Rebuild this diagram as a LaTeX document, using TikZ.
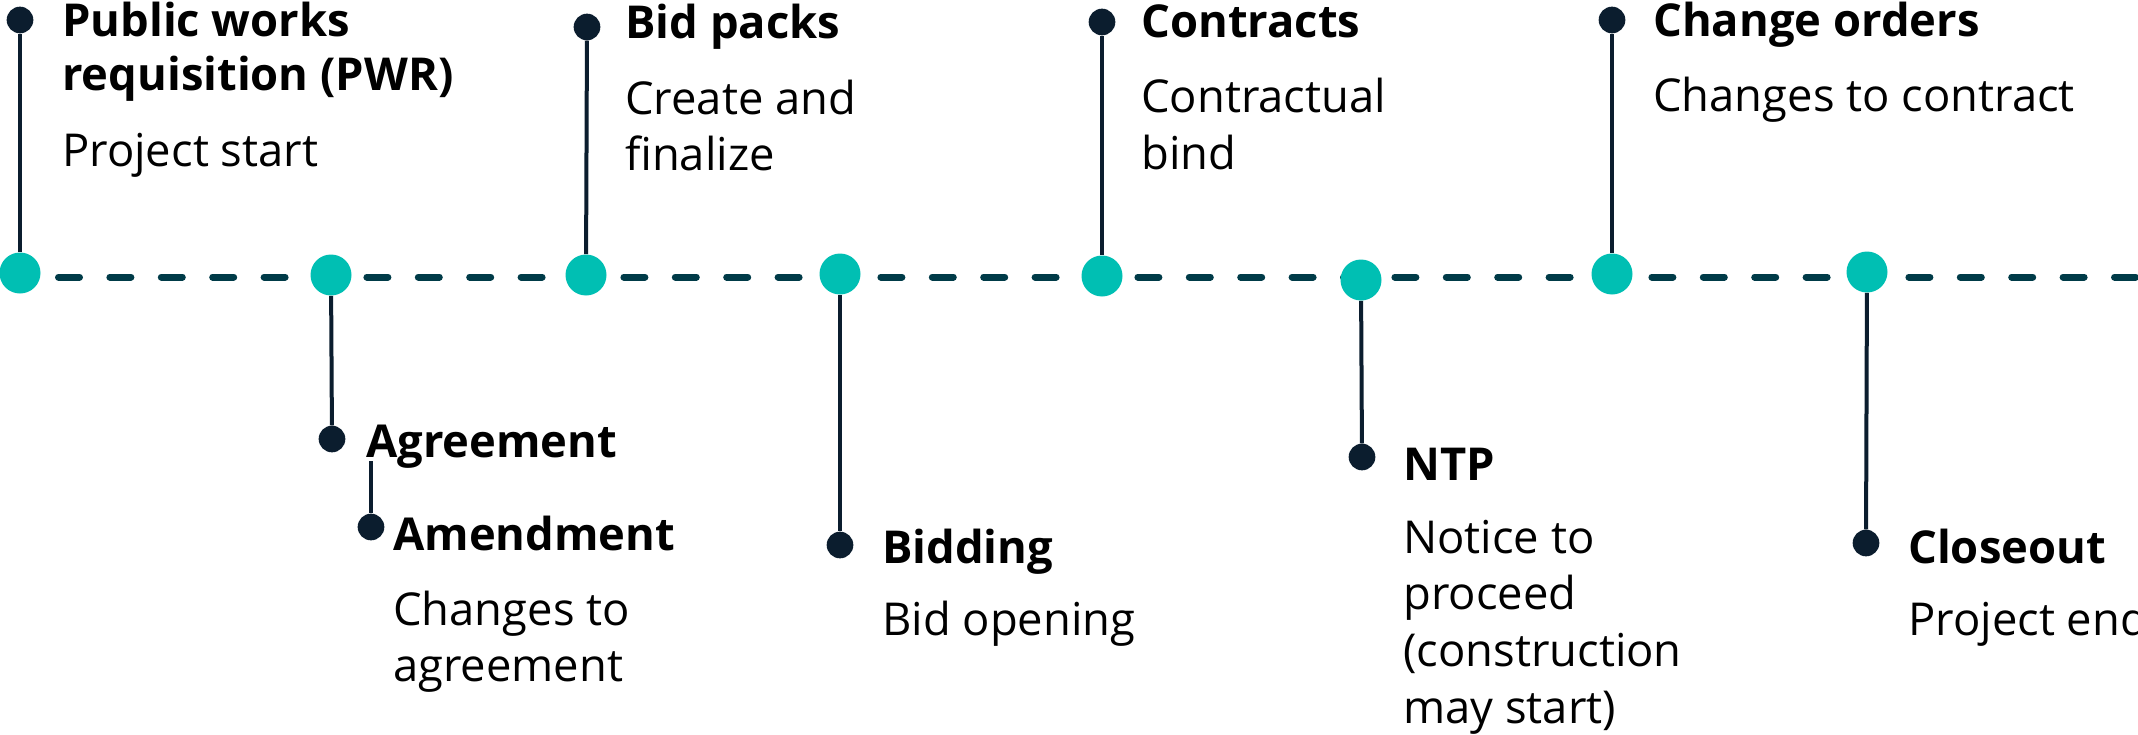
\documentclass[tikz,border=0pt]{standalone}
\usepackage{fontspec}
\setmainfont{Open Sans}
\definecolor{tealc}{HTML}{00BFB3}
\definecolor{navyc}{HTML}{0B1D2E}
\definecolor{dashc}{HTML}{003B48}
\newcommand\mlines[1]{\begin{tabular}[t]{@{}l@{}}#1\end{tabular}}
\tikzset{
  title/.style={anchor=base west, inner sep=0pt, text=black,
    font=\bfseries\fontsize{34}{40.5}\selectfont},
  body/.style={anchor=base west, inner sep=0pt, text=black,
    font=\fontsize{34}{42.5}\selectfont},
  milestone/.style={circle, fill=tealc, inner sep=0pt, minimum size=30.75pt},
  pin/.style={circle, fill=navyc, inner sep=0pt, minimum size=20pt},
  stem/.style={draw=navyc, line width=3pt},
  timeline/.style={draw=dashc, line width=5.25pt, line cap=round,
    dash pattern=on 15.75pt off 22.8pt}
}
\begin{document}
\begin{tikzpicture}[x=0.75pt,y=-0.75pt]
\useasboundingbox (0,0) rectangle (2138,735);
\clip (0,0) rectangle (2138,735);
% timeline
\coordinate (tl0) at (58.5,277);
\coordinate (tl1) at (2160,277);
\draw[timeline] (tl0) -- (tl1);
% milestone circles
\node[milestone] (c1) at (20,273) {};
\node[milestone] (c2) at (331,275) {};
\node[milestone] (c3) at (586,275) {};
\node[milestone] (c4) at (840,274) {};
\node[milestone] (c5) at (1102,276) {};
\node[milestone] (c6) at (1361,280) {};
\node[milestone] (c7) at (1612,274) {};
\node[milestone] (c8) at (1867,272) {};
% pins
\node[pin] (p1) at (20,20) {};
\node[pin] (p2) at (332,439) {};
\node[pin] (p3) at (587,27) {};
\node[pin] (p4) at (840,545) {};
\node[pin] (p5) at (1102,22) {};
\node[pin] (p6) at (1362,457) {};
\node[pin] (p7) at (1612,20) {};
\node[pin] (p8) at (1866,543) {};
\node[pin] (pa) at (371,527) {};
\coordinate (astart) at (371,461);
% stems
\draw[stem] (p1) -- (c1);
\draw[stem] (c2) -- (p2);
\draw[stem] (p3) -- (c3);
\draw[stem] (c4) -- (p4);
\draw[stem] (p5) -- (c5);
\draw[stem] (c6) -- (p6);
\draw[stem] (p7) -- (c7);
\draw[stem] (c8) -- (p8);
\draw[stem] (astart) -- (pa);
% labels
\node[title] (t1) at (62,37) {\mlines{Public works\\requisition (PWR)}};
\node[body] (b1) at (62,166) {Project start};
\node[title] (t3) at (625,39) {Bid packs};
\node[body] (b3) at (625,114) {\mlines{Create and\\finalize}};
\node[title] (t5) at (1141,38) {Contracts};
\node[body] (b5) at (1141,113) {\mlines{Contractual\\bind}};
\node[title] (t7) at (1653,37) {Change orders};
\node[body] (b7) at (1653,112) {Changes to contract};
\node[title] (t2) at (366,457) {Agreement};
\node[title] (ta) at (393,550) {Amendment};
\node[body] (ba) at (393,625) {\mlines{Changes to\\agreement}};
\node[title] (t4) at (882,563) {Bidding};
\node[body] (b4) at (882,635) {Bid opening};
\node[title] (t6) at (1403,480) {NTP};
\node[body] (b6) at (1403,553) {\mlines{Notice to\\proceed\\(construction\\may start)}};
\node[title] (t8) at (1908,563) {Closeout};
\node[body] (b8) at (1908,635) {Project end};
\end{tikzpicture}
\end{document}
